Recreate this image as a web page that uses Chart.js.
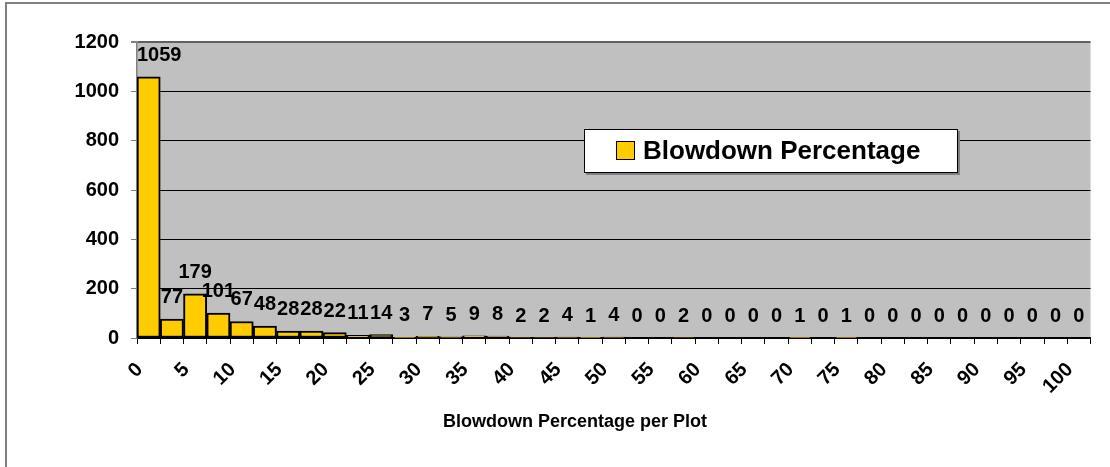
<!DOCTYPE html>
<html>
<head>
<meta charset="utf-8">
<title>Blowdown Percentage per Plot</title>
<script src="https://cdn.jsdelivr.net/npm/chart.js@4.4.1/dist/chart.umd.min.js"></script>
<style>
  html, body { margin: 0; padding: 0; background: #fff; }
  #wrap { width: 1110px; height: 467px; position: relative; }
</style>
</head>
<body>
<div id="wrap"><canvas id="chart"></canvas></div>
<script>
// Histogram bins (percent of plot blown down), 2.5 % wide
const categories = ['0','2.5','5','7.5','10','12.5','15','17.5','20','22.5',
  '25','27.5','30','32.5','35','37.5','40','42.5','45','47.5',
  '50','52.5','55','57.5','60','62.5','65','67.5','70','72.5',
  '75','77.5','80','82.5','85','87.5','90','92.5','95','97.5','100'];

// Number of plots in each bin
const plotCounts = [1059, 77, 179, 101, 67, 48, 28, 28, 22, 11,
  14, 3, 7, 5, 9, 8, 2, 2, 4, 1,
  4, 0, 0, 2, 0, 0, 0, 0, 1, 0,
  1, 0, 0, 0, 0, 0, 0, 0, 0, 0, 0];

// Labels printed under every other bin
const xTickLabels = ['0','5','10','15','20','25','30','35','40','45','50',
  '55','60','65','70','75','80','85','90','95','100'];
const yTickValues = [0, 200, 400, 600, 800, 1000, 1200];

const seriesName = 'Blowdown Percentage';
const xTitle = 'Blowdown Percentage per Plot';

const FONT = '"Liberation Sans", Arial, sans-serif';

// White page, outer chart frame and grey plot area
const backdrop = {
  id: 'backdrop',
  beforeDraw(chart) {
    const { ctx, chartArea: a } = chart;
    ctx.save();
    ctx.fillStyle = '#fff';
    ctx.fillRect(0, 0, chart.width, chart.height);
    ctx.strokeStyle = '#808080';
    ctx.lineWidth = 2;
    ctx.beginPath();
    ctx.moveTo(6, chart.height + 5);
    ctx.lineTo(6, 3);
    ctx.lineTo(chart.width + 5, 3);
    ctx.stroke();
    ctx.fillStyle = '#C0C0C0';
    ctx.fillRect(a.left, a.top, a.right - a.left, a.bottom - a.top);
    ctx.restore();
  }
};

// Count printed above each bar
const valueLabels = {
  id: 'valueLabels',
  afterDatasetsDraw(chart) {
    const { ctx, chartArea: a } = chart;
    const ds = chart.data.datasets[0];
    const meta = chart.getDatasetMeta(0);
    ctx.save();
    ctx.font = 'bold 20px ' + FONT;
    ctx.fillStyle = '#000';
    ctx.textAlign = 'center';
    ctx.textBaseline = 'alphabetic';
    meta.data.forEach((bar, i) => {
      const txt = String(ds.data[i]);
      const w = ctx.measureText(txt).width;
      let x = bar.x;
      if (x - w / 2 < a.left) x = a.left + w / 2;
      ctx.fillText(txt, x, bar.y - 16);
    });
    ctx.restore();
  }
};

// Boxed legend inside the plot area, and the x-axis title
const annotations = {
  id: 'annotations',
  afterDraw(chart) {
    const { ctx, chartArea: a } = chart;
    const ds = chart.data.datasets[0];
    ctx.save();
    const bx = a.left + 447, by = a.top + 87, bw = 374, bh = 44;
    ctx.fillStyle = '#808080';
    ctx.fillRect(bx + 2, by + 2, bw, bh);
    ctx.fillStyle = '#fff';
    ctx.fillRect(bx, by, bw, bh);
    ctx.strokeStyle = '#000';
    ctx.lineWidth = 1;
    ctx.strokeRect(bx + 0.5, by + 0.5, bw - 1, bh - 1);
    ctx.fillStyle = ds.backgroundColor;
    ctx.fillRect(bx + 32, by + 12, 19, 19);
    ctx.strokeRect(bx + 32.5, by + 12.5, 18, 18);
    ctx.fillStyle = '#000';
    ctx.font = 'bold 26px ' + FONT;
    ctx.textAlign = 'left';
    ctx.textBaseline = 'middle';
    ctx.fillText(ds.label, bx + 59, by + 23);

    ctx.font = 'bold 18px ' + FONT;
    ctx.textAlign = 'center';
    ctx.fillText(xTitle, a.left + 438, a.bottom + 84);
    ctx.restore();
  }
};

new Chart(document.getElementById('chart'), {
  type: 'bar',
  data: {
    labels: categories,
    datasets: [{
      label: seriesName,
      data: plotCounts,
      backgroundColor: '#FFCC00',
      borderColor: '#000',
      borderWidth: 2,
      borderSkipped: false,
      categoryPercentage: 1,
      barPercentage: 1
    }]
  },
  options: {
    responsive: true,
    maintainAspectRatio: false,
    animation: false,
    layout: { padding: { top: 42, right: 11, bottom: 0, left: 0 } },
    plugins: {
      legend: { display: false },
      tooltip: { enabled: false }
    },
    scales: {
      x: {
        afterFit(scale) { scale.height = 129; },
        border: { color: '#000', width: 2 },
        grid: { drawOnChartArea: false, color: '#000', tickLength: 6, offset: true },
        ticks: {
          autoSkip: false,
          maxRotation: 45,
          minRotation: 45,
          labelOffset: -9,
          padding: 14,
          color: '#000',
          font: { family: FONT, size: 20, weight: 'bold' },
          callback: (v, i) => (i % 2 === 0 ? xTickLabels[i / 2] : '')
        }
      },
      y: {
        min: 0,
        max: 1200,
        afterBuildTicks(scale) { scale.ticks = yTickValues.map(v => ({ value: v })); },
        afterFit(scale) { scale.width = 137; },
        border: { color: '#808080', width: 1.5 },
        grid: {
          color: c => (c.tick && c.tick.value === 1200 ? '#606060' : '#000'),
          lineWidth: c => (c.tick && c.tick.value === 1200 ? 2 : 1),
          tickColor: '#808080',
          tickLength: 6
        },
        ticks: {
          padding: 12,
          color: '#000',
          font: { family: FONT, size: 20, weight: 'bold' },
          callback: v => String(v)
        }
      }
    }
  },
  plugins: [backdrop, valueLabels, annotations]
});
</script>
</body>
</html>
